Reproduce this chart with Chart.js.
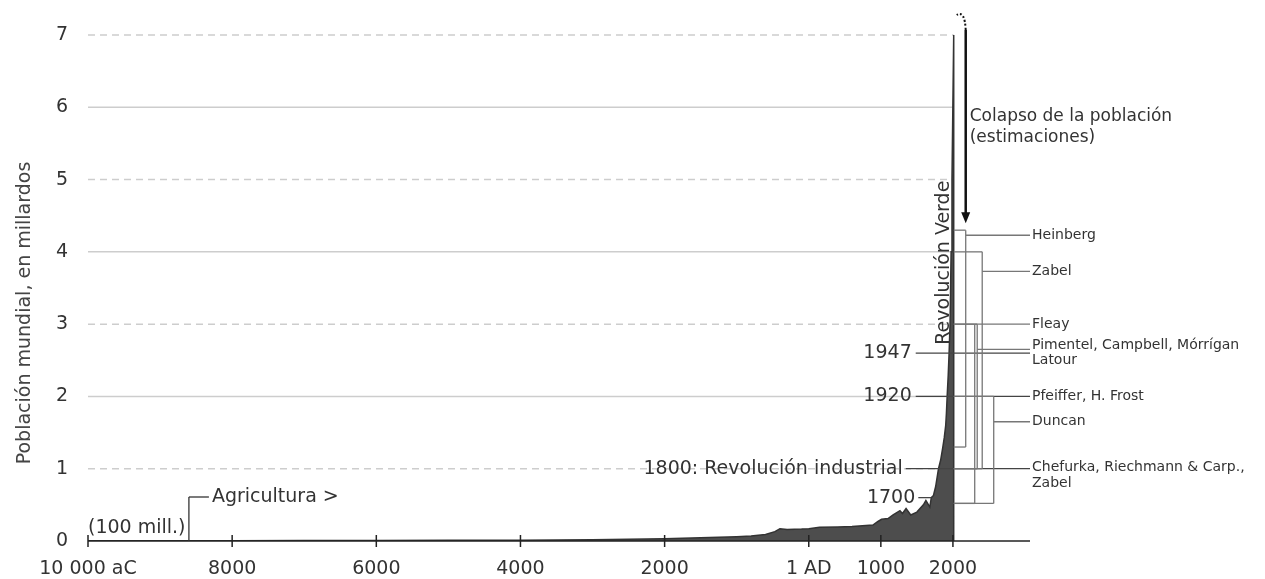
<!DOCTYPE html>
<html>
<head>
<meta charset="utf-8">
<script src="https://cdn.jsdelivr.net/npm/chart.js@4.4.1/dist/chart.umd.min.js"></script>
<style>
  html, body { margin: 0; padding: 0; background: #fff; }
</style>
</head>
<body>
<canvas id="popChart" width="1265" height="579"></canvas>
<script>
// world population, billions
const years = [-10000, -9000, -8000, -7000, -6000, -5000, -4000, -3000, -2500, -2000,
  -1500, -1000, -800, -600, -470, -400, -300, -100, 1, 150, 400, 600, 890, 960, 1010,
  1100, 1170, 1265, 1300, 1350, 1415, 1500, 1590, 1625, 1680, 1700, 1730, 1760, 1800,
  1830, 1860, 1880, 1900, 1910, 1920, 1935, 1947, 1960, 1975, 1987, 1999, 2011, 2011];
const population = [0.004, 0.005, 0.005, 0.006, 0.007, 0.009, 0.012, 0.018, 0.024, 0.032,
  0.045, 0.06, 0.07, 0.09, 0.13, 0.17, 0.16, 0.165, 0.17, 0.19, 0.195, 0.2, 0.22, 0.27, 0.3,
  0.31, 0.36, 0.42, 0.38, 0.45, 0.36, 0.4, 0.5, 0.56, 0.47, 0.6, 0.63, 0.75, 1.0,
  1.12, 1.3, 1.43, 1.6, 1.77, 2.0, 2.3, 2.6, 3.0, 4.0, 5.0, 6.0, 7.0, 0];

const xTicks = [-10000, -8000, -6000, -4000, -2000, 0, 1000, 2000];
const xTickLabels = ['10 000 aC', '8000', '6000', '4000', '2000', '1 AD', '1000', '2000'];
const yTicks = [0, 1, 2, 3, 4, 5, 6, 7];
const dashedRows = [1, 3, 5, 7];

const markYears = [1700, 1800, 1920, 1947];
const markLabels = ['1700', '1800: Revolución industrial', '1920', '1947'];
const agricultureYear = -8600;

// collapse estimates (range high -> low)
const estimateNames = ['Heinberg', 'Zabel', 'Fleay', 'Pimentel, Campbell, Mórrígan', 'Duncan'];
const estimateHigh = [4.3, 4.0, 3.0, 3.0, 2.0];
const estimateLow = [1.3, 1.0, 0.52, 1.0, 0.52];
const estimateMid = [4.23, 3.73, 3.0, 2.65, 1.65];
// single-value estimates
const pointNames = ['Latour', 'Pfeiffer, H. Frost', 'Chefurka, Riechmann & Carp.,'];
const pointValues = [2.6, 2.0, 1.0];

const FONT = '"DejaVu Sans", sans-serif';

const annotations = {
  id: 'annotations',
  beforeDatasetsDraw(chart) {
    const { ctx, scales: { x, y } } = chart;
    const x0 = x.getPixelForValue(years[0]);
    const x1 = x.getPixelForValue(years[years.length - 1]);
    ctx.save();
    ctx.lineWidth = 1.5;
    ctx.strokeStyle = '#cdcdcd';
    yTicks.forEach(v => {
      if (v === 0) return;
      const py = y.getPixelForValue(v);
      ctx.setLineDash(dashedRows.includes(v) ? [7, 5] : []);
      ctx.beginPath();
      ctx.moveTo(x0, py);
      ctx.lineTo(x1, py);
      ctx.stroke();
    });
    ctx.restore();
  },
  afterDatasetsDraw(chart) {
    const { ctx, scales: { x, y } } = chart;
    const X = v => x.getPixelForValue(v);
    const Y = v => y.getPixelForValue(v);
    const line = (ax, ay, bx, by) => {
      ctx.beginPath(); ctx.moveTo(ax, ay); ctx.lineTo(bx, by); ctx.stroke();
    };
    const text = (s, tx, ty, size, align) => {
      ctx.font = size + 'px ' + FONT;
      ctx.textAlign = align || 'left';
      ctx.fillText(s, tx, ty);
    };
    const popAt = yr => population[years.indexOf(yr)];

    ctx.save();
    ctx.textBaseline = 'middle';
    ctx.fillStyle = '#333';

    // x axis with crossing ticks
    const base = Y(0);
    const endX = X(3000) + 5;
    ctx.strokeStyle = '#222';
    ctx.lineWidth = 1.5;
    line(X(-10000), base, endX, base);
    xTicks.forEach(v => line(X(v), base - 6, X(v), base + 6));

    // agriculture
    ctx.strokeStyle = '#333';
    ctx.lineWidth = 1.3;
    const ax = X(agricultureYear);
    line(ax, base, ax, base - 44);
    line(ax, base - 44, ax + 20, base - 44);
    text('Agricultura >', ax + 23, base - 44, 19);
    text('(100 mill.)', X(-10000), base - 13, 19);

    // milestones on the curve
    const curveX = X(years[years.length - 1]);
    ctx.strokeStyle = '#444';
    markYears.forEach((yr, i) => {
      const py = Y(popAt(yr));
      if (yr === 1700) {
        line(X(yr) - 13, py, X(yr), py);
        text(markLabels[i], X(yr) - 16, py, 19, 'right');
      } else if (yr === 1800) {
        line(curveX - 48, py, endX, py);
        text(markLabels[i], curveX - 51, py, 19, 'right');
      } else {
        line(curveX - 38, py, endX, py);
        text(markLabels[i], curveX - 42, py, 19, 'right');
      }
    });

    // estimate brackets
    const offsets = [12, 28.5, 21, 23.5, 40];
    ctx.strokeStyle = '#777';
    ctx.lineWidth = 1.3;
    estimateNames.forEach((name, i) => {
      const bx = curveX + offsets[i];
      const top = Y(estimateHigh[i]);
      const bot = Y(estimateLow[i]);
      line(curveX, top, bx, top);
      line(bx, top, bx, bot);
      line(curveX, bot, bx, bot);
      const my = Y(estimateMid[i]);
      line(bx, my, endX, my);
      const dy = name.startsWith('Pimentel') ? -4 : 0;
      text(name, endX + 2, my + dy, 14);
    });
    pointNames.forEach((name, i) => {
      const py = Y(pointValues[i]);
      let dy = 0;
      if (name === 'Latour') dy = 7;
      if (name.startsWith('Chefurka')) dy = -1;
      text(name, endX + 2, py + dy, 14);
      if (name.startsWith('Chefurka')) text('Zabel', endX + 2, py + 15, 14);
    });

    // green revolution
    ctx.save();
    ctx.translate(curveX - 5, Y(3.85));
    ctx.rotate(-Math.PI / 2);
    ctx.textBaseline = 'alphabetic';
    text('Revolución Verde', 0, 0, 19, 'center');
    ctx.restore();

    // collapse arrow
    const arX = curveX + 12;
    const arTop = Y(7) - 5;
    const arTip = Y(4.3) - 7;
    ctx.strokeStyle = '#111';
    ctx.lineWidth = 2.5;
    line(arX, arTop, arX, arTip - 9);
    ctx.setLineDash([2, 2]);
    ctx.lineWidth = 2;
    ctx.beginPath();
    ctx.moveTo(arX, arTop);
    ctx.quadraticCurveTo(arX - 1, Y(7) - 25, arX - 9, Y(7) - 20);
    ctx.stroke();
    ctx.setLineDash([]);
    ctx.fillStyle = '#111';
    ctx.beginPath();
    ctx.moveTo(arX - 4.5, arTip - 11);
    ctx.lineTo(arX + 4.5, arTip - 11);
    ctx.lineTo(arX, arTip);
    ctx.closePath();
    ctx.fill();
    ctx.fillStyle = '#333';
    text('Colapso de la población', arX + 4, Y(5.87), 17);
    text('(estimaciones)', arX + 4, Y(5.58), 17);

    // y title
    ctx.save();
    ctx.translate(30, 313);
    ctx.rotate(-Math.PI / 2);
    ctx.textBaseline = 'alphabetic';
    ctx.fillStyle = '#444';
    text('Población mundial, en millardos', 0, 0, 19, 'center');
    ctx.restore();

    ctx.restore();
  }
};

new Chart(document.getElementById('popChart'), {
  type: 'line',
  data: {
    datasets: [{
      data: years.map((yr, i) => ({ x: yr, y: population[i] })),
      fill: 'origin',
      backgroundColor: '#4d4d4d',
      borderColor: '#333',
      borderWidth: 1.5,
      pointRadius: 0,
      tension: 0,
    }],
  },
  options: {
    responsive: false,
    animation: false,
    layout: { padding: { left: 0, right: 240, top: 35, bottom: 0 } },
    plugins: { legend: { display: false }, tooltip: { enabled: false } },
    scales: {
      x: {
        type: 'linear',
        min: -10000,
        max: 3000,
        grid: { display: false, drawTicks: false },
        border: { display: false },
        afterBuildTicks: scale => { scale.ticks = xTicks.map(v => ({ value: v })); },
        afterFit: scale => { scale.height = 38; },
        ticks: {
          autoSkip: false,
          maxRotation: 0,
          padding: 17,
          color: '#333',
          font: { family: FONT, size: 19 },
          callback: v => xTickLabels[xTicks.indexOf(v)],
        },
      },
      y: {
        min: 0,
        max: 7,
        grid: { display: false, drawTicks: false },
        border: { display: false },
        afterBuildTicks: scale => { scale.ticks = yTicks.map(v => ({ value: v })); },
        afterFit: scale => { scale.width = 88; },
        ticks: {
          padding: 20,
          color: '#333',
          font: { family: FONT, size: 19 },
        },
      },
    },
  },
  plugins: [annotations],
});
</script>
</body>
</html>
